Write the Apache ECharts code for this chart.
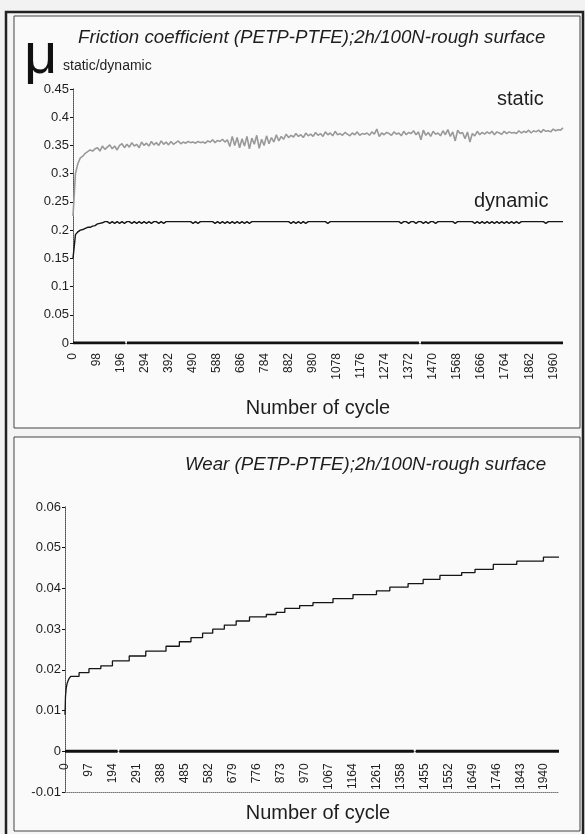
<!DOCTYPE html>
<html><head><meta charset="utf-8">
<script src="https://cdn.jsdelivr.net/npm/echarts@6/dist/echarts.min.js"></script>
<style>html,body{margin:0;padding:0;background:#f2f2f2}#c{width:585px;height:834px}</style>
</head><body><div id="c"></div>
<script>
// ---- data ----
const frictionStep = 10; // samples every 10 cycles, 0..2000
const staticValues = [
0.225,0.300,0.318,0.328,0.331,0.336,0.339,0.342,0.340,0.344,
0.346,0.340,0.349,0.343,0.347,0.351,0.344,0.349,0.342,0.350,
0.353,0.346,0.352,0.347,0.355,0.349,0.352,0.346,0.356,0.350,
0.354,0.349,0.357,0.351,0.355,0.350,0.358,0.352,0.356,0.351,
0.357,0.352,0.355,0.358,0.353,0.356,0.354,0.357,0.355,0.356,
0.354,0.357,0.355,0.356,0.354,0.358,0.356,0.360,0.355,0.359,
0.357,0.361,0.356,0.360,0.348,0.366,0.350,0.364,0.346,0.362,
0.349,0.366,0.344,0.363,0.352,0.368,0.345,0.361,0.350,0.367,
0.353,0.364,0.356,0.369,0.358,0.366,0.361,0.370,0.364,0.368,
0.365,0.371,0.366,0.369,0.364,0.372,0.367,0.370,0.366,0.373,
0.368,0.371,0.366,0.374,0.369,0.372,0.367,0.375,0.369,0.371,
0.368,0.373,0.370,0.367,0.372,0.369,0.374,0.368,0.371,0.370,
0.372,0.368,0.374,0.370,0.379,0.366,0.372,0.369,0.373,0.371,
0.368,0.374,0.370,0.372,0.367,0.375,0.369,0.373,0.371,0.376,
0.369,0.374,0.360,0.377,0.368,0.373,0.366,0.375,0.370,0.372,
0.367,0.376,0.369,0.378,0.366,0.374,0.358,0.377,0.371,0.373,
0.362,0.374,0.356,0.371,0.367,0.375,0.369,0.373,0.370,0.374,
0.371,0.375,0.369,0.374,0.372,0.370,0.375,0.371,0.374,0.372,
0.373,0.371,0.376,0.372,0.375,0.373,0.377,0.372,0.376,0.374,
0.377,0.373,0.378,0.375,0.376,0.374,0.379,0.376,0.378,0.377,0.381
];
const dynamicValues = [
0.150,0.192,0.197,0.200,0.201,0.203,0.205,0.205,0.207,0.208,
0.211,0.212,0.213,0.215,0.215,0.212,0.215,0.212,0.215,0.212,
0.215,0.212,0.215,0.215,0.212,0.215,0.212,0.215,0.212,0.215,
0.212,0.215,0.212,0.215,0.215,0.212,0.215,0.212,0.215,0.215,
0.215,0.215,0.215,0.215,0.215,0.215,0.215,0.215,0.215,0.212,
0.215,0.212,0.215,0.215,0.215,0.215,0.215,0.215,0.212,0.215,
0.212,0.215,0.212,0.215,0.212,0.215,0.212,0.215,0.212,0.215,
0.212,0.215,0.212,0.215,0.215,0.215,0.215,0.215,0.215,0.215,
0.215,0.215,0.215,0.215,0.215,0.215,0.215,0.215,0.215,0.212,
0.215,0.212,0.215,0.212,0.215,0.212,0.215,0.215,0.215,0.215,
0.215,0.215,0.215,0.215,0.212,0.215,0.215,0.215,0.215,0.215,
0.215,0.215,0.215,0.215,0.215,0.215,0.215,0.215,0.215,0.215,
0.215,0.215,0.215,0.215,0.215,0.215,0.215,0.215,0.215,0.215,
0.215,0.215,0.215,0.215,0.212,0.215,0.215,0.212,0.215,0.215,
0.212,0.215,0.215,0.212,0.215,0.212,0.215,0.215,0.212,0.215,
0.215,0.215,0.215,0.215,0.215,0.215,0.212,0.215,0.215,0.215,
0.215,0.215,0.215,0.215,0.212,0.215,0.212,0.215,0.212,0.215,
0.212,0.215,0.212,0.215,0.212,0.215,0.212,0.215,0.212,0.215,
0.212,0.215,0.212,0.215,0.215,0.215,0.215,0.215,0.215,0.215,
0.215,0.215,0.215,0.212,0.215,0.215,0.215,0.215,0.215,0.215,0.215
];
const wearCycles = [0,2,5,9,15,23,57,97,145,192,260,327,409,463,510,557,598,645,693,747,815,855,890,950,1004,1085,1166,1261,1315,1389,1450,1518,1606,1660,1734,1829,1937,2000];
const wearValues = [0.009,0.0135,0.0155,0.0168,0.0177,0.0184,0.0193,0.0203,0.0210,0.0222,0.0234,0.0246,0.0258,0.0269,0.0279,0.0290,0.0300,0.0310,0.0320,0.0330,0.0336,0.0341,0.0351,0.0358,0.0365,0.0375,0.0385,0.0394,0.0403,0.0412,0.0422,0.0432,0.0439,0.0447,0.0459,0.0467,0.0477,0.0477];
// thick zero line (a series at 0 with two small gaps)
const zeroCycles = [0, 213, 216, 220, 1412, 1415, 1420, 2000];
const zeroValues = [0, 0, null, 0, 0, null, 0, 0];
const frictionTickStep = 98;
const wearTickStep = 97;
const cycleMax = 2000;
const frictionY = {min: 0, max: 0.45, interval: 0.05};
const wearY = {min: -0.01, max: 0.06, interval: 0.01};
const frictionTitle = 'Friction coefficient (PETP-PTFE);2h/100N-rough surface';
const wearTitle = 'Wear (PETP-PTFE);2h/100N-rough surface';
const xName = 'Number of cycle';

// ---- build ----
const pairs = (vals, step) => vals.map((v, i) => [i * step, v]);
const pairs2 = (xs, ys) => xs.map((x, i) => [x, ys[i] === null ? '-' : ys[i]]);
const FONT = "'Liberation Sans', Arial, sans-serif";
const TXT = '#1e1e1e';

const grid0 = {left: 73, top: 89, width: 490, height: 254};
const grid1 = {left: 65, top: 507, width: 494, height: 285};
// x axis of the wear chart sits at y = 0
const wearAxisOffset = -grid1.height * (0 - wearY.min) / (wearY.max - wearY.min);

const dotted = {show: true, lineStyle: {color: '#777', width: 1, type: [1, 1]}};
const blankAxis = (extra) => Object.assign({type: 'value', min: 0, max: 1, axisLabel: {show: false}, axisTick: {show: false}, splitLine: {show: false}, axisLine: dotted}, extra);
const xLabel = (margin) => ({rotate: 90, margin: margin, fontSize: 12, fontFamily: FONT, color: TXT, showMaxLabel: false, formatter: (v) => String(v)});

const chart = echarts.init(document.getElementById('c'), null, {renderer: 'canvas'});
chart.setOption({
  backgroundColor: '#f2f2f2',
  animation: false,
  title: [
    {text: frictionTitle, left: 73, top: 23, textStyle: {fontFamily: FONT, fontStyle: 'italic', fontWeight: 'normal', fontSize: 18.7, color: TXT}},
    {text: wearTitle, left: 180, top: 450, textStyle: {fontFamily: FONT, fontStyle: 'italic', fontWeight: 'normal', fontSize: 18.7, color: TXT}}
  ],
  graphic: [
    {type: 'rect', z: -10, shape: {x: 6, y: 12, width: 577, height: 830}, style: {fill: '#f4f4f4', stroke: '#222', lineWidth: 2.5}},
    {type: 'rect', z: -9, shape: {x: 14, y: 16, width: 566, height: 412}, style: {fill: '#fafafa', stroke: '#444', lineWidth: 1}},
    {type: 'rect', z: -9, shape: {x: 14, y: 437, width: 566, height: 394}, style: {fill: '#fafafa', stroke: '#444', lineWidth: 1}},
    {type: 'text', x: 24, y: 28, style: {text: '\u03bc', font: "58px 'Liberation Sans', Arial", fill: '#111'}},
    {type: 'text', x: 63, y: 59, style: {text: 'static/dynamic', font: "14px 'Liberation Sans', Arial", fill: TXT}},
    {type: 'text', x: 497, y: 89, style: {text: 'static', font: "20px 'Liberation Sans', Arial", fill: TXT}},
    {type: 'text', x: 474, y: 191, style: {text: 'dynamic', font: "20px 'Liberation Sans', Arial", fill: TXT}},
    {type: 'text', x: 318, y: 408, style: {text: xName, font: "20px 'Liberation Sans', Arial", fill: TXT, align: 'center', verticalAlign: 'middle'}},
    {type: 'text', x: 318, y: 813, style: {text: xName, font: "20px 'Liberation Sans', Arial", fill: TXT, align: 'center', verticalAlign: 'middle'}}
  ],
  grid: [grid0, grid1],
  xAxis: [
    {gridIndex: 0, type: 'value', min: 0, max: cycleMax, interval: frictionTickStep,
     axisLine: {show: false, onZero: false},
     axisTick: {show: false}, splitLine: {show: false}, axisLabel: xLabel(10)},
    blankAxis({gridIndex: 0, position: 'top'}),
    {gridIndex: 1, type: 'value', min: 0, max: cycleMax, interval: wearTickStep, position: 'bottom', offset: wearAxisOffset,
     axisLine: {show: false, onZero: false},
     axisTick: {show: false}, splitLine: {show: false}, axisLabel: xLabel(12)},
    blankAxis({gridIndex: 1, position: 'top'}),
    blankAxis({gridIndex: 1, position: 'bottom', axisLine: Object.assign({onZero: false}, dotted)})
  ],
  yAxis: [
    Object.assign({gridIndex: 0, type: 'value',
     axisLine: {show: true, onZero: false, lineStyle: {color: '#111', width: 1}},
     axisTick: {show: true, length: 3, lineStyle: {color: '#111'}},
     splitLine: {show: false},
     axisLabel: {margin: 4, fontSize: 13, fontFamily: FONT, color: TXT}}, frictionY),
    Object.assign({gridIndex: 0, type: 'value', axisLine: {show: false},
     axisTick: {show: true, inside: true, length: 3, lineStyle: {color: '#111'}}, axisLabel: {show: false}, splitLine: {show: false}}, frictionY),
    blankAxis({gridIndex: 0, position: 'right'}),
    Object.assign({gridIndex: 1, type: 'value',
     axisLine: {show: true, onZero: false, lineStyle: {color: '#111', width: 1}},
     axisTick: {show: true, length: 3, lineStyle: {color: '#111'}},
     splitLine: {show: false},
     axisLabel: {margin: 4, fontSize: 13, fontFamily: FONT, color: TXT}}, wearY),
    Object.assign({gridIndex: 1, type: 'value', axisLine: {show: false},
     axisTick: {show: true, inside: true, length: 3, lineStyle: {color: '#111'}}, axisLabel: {show: false}, splitLine: {show: false}}, wearY),
    blankAxis({gridIndex: 1, position: 'right'})
  ],
  series: [
    {name: 'zero', type: 'line', xAxisIndex: 0, yAxisIndex: 0, data: pairs2(zeroCycles, zeroValues), connectNulls: false,
     showSymbol: false, symbol: 'none', lineStyle: {color: '#111', width: 3}, z: 2},
    {name: 'static', type: 'line', xAxisIndex: 0, yAxisIndex: 0, data: pairs(staticValues, frictionStep),
     showSymbol: false, symbol: 'none', lineStyle: {color: '#999', width: 1.6}, z: 3},
    {name: 'dynamic', type: 'line', xAxisIndex: 0, yAxisIndex: 0, data: pairs(dynamicValues, frictionStep),
     showSymbol: false, symbol: 'none', lineStyle: {color: '#151515', width: 1.4}, z: 4},
    {name: 'zeroWear', type: 'line', xAxisIndex: 2, yAxisIndex: 3, data: pairs2(zeroCycles, zeroValues), connectNulls: false,
     showSymbol: false, symbol: 'none', lineStyle: {color: '#111', width: 3}, z: 2},
    {name: 'wear', type: 'line', step: 'end', xAxisIndex: 2, yAxisIndex: 3, data: pairs2(wearCycles, wearValues),
     showSymbol: false, symbol: 'none', lineStyle: {color: '#151515', width: 1.3}, z: 4}
  ]
});
</script></body></html>
